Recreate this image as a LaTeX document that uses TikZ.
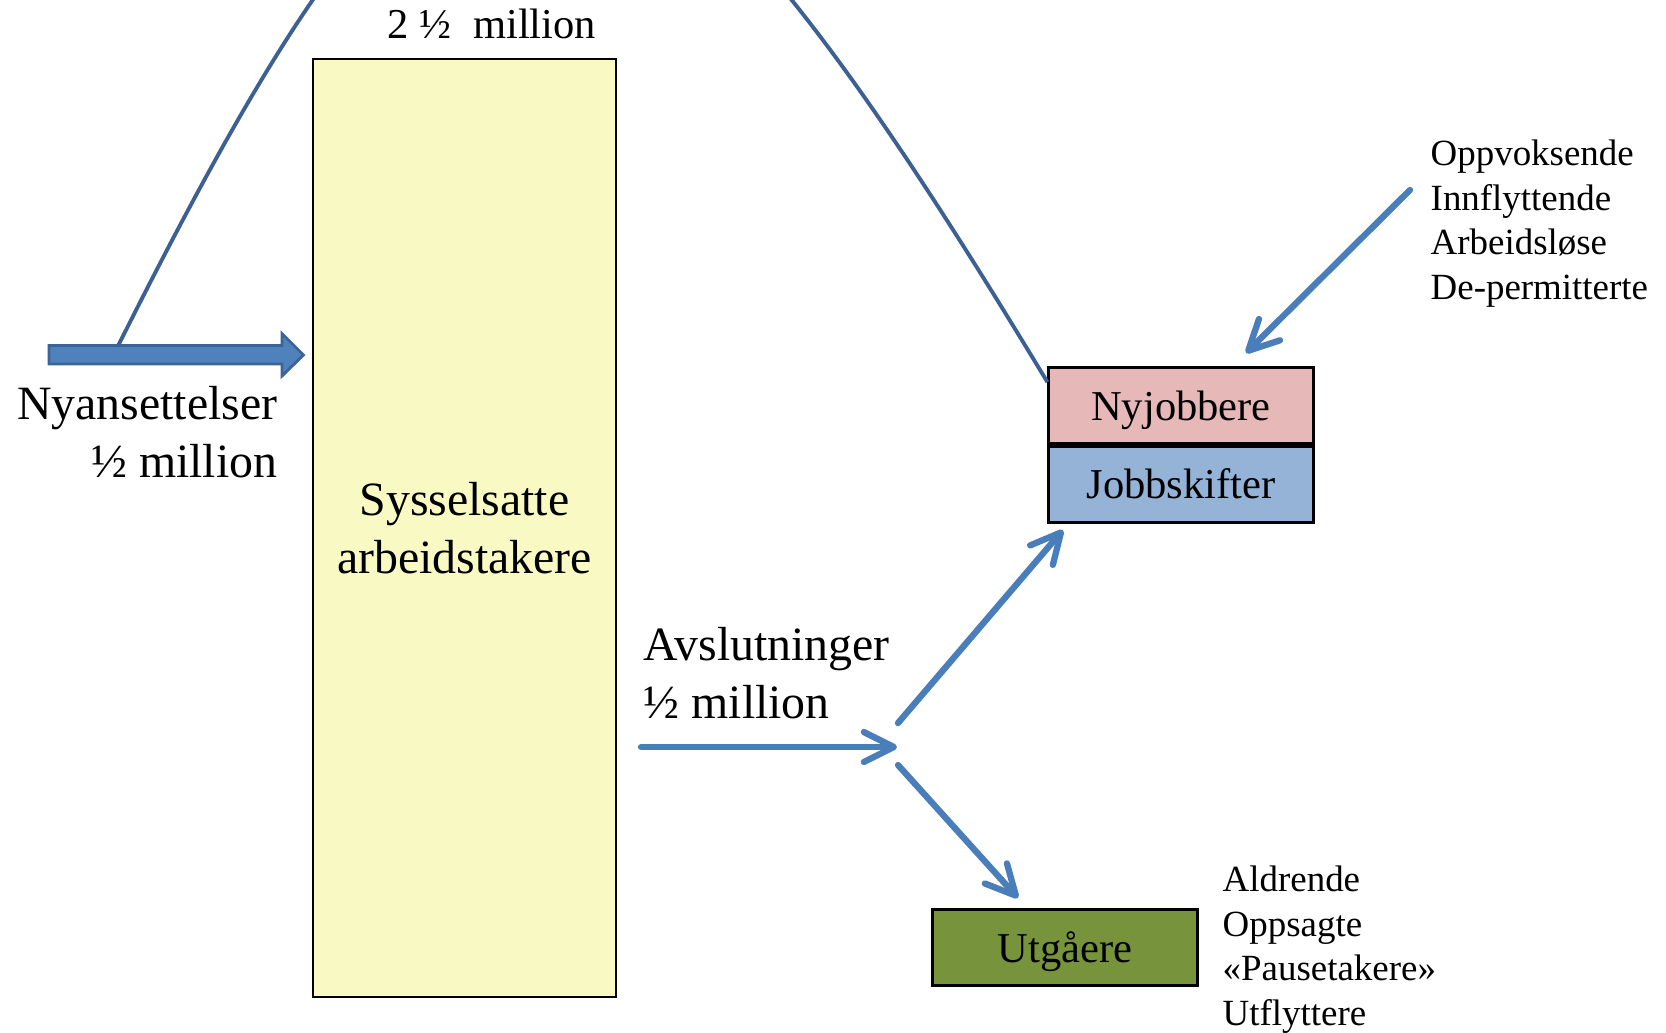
\documentclass[tikz,border=0pt]{standalone}
\usepackage{fontspec}
\setmainfont{Liberation Serif}
\usetikzlibrary{arrows.meta,positioning}
\definecolor{sysfill}{RGB}{249,249,196}
\definecolor{nyfill}{RGB}{230,185,184}
\definecolor{jobfill}{RGB}{149,179,215}
\definecolor{utgfill}{RGB}{119,147,60}
\definecolor{flowblue}{RGB}{74,126,187}
\definecolor{arcblue}{RGB}{60,96,146}
\definecolor{hirefill}{RGB}{79,129,189}
\definecolor{hireedge}{RGB}{60,100,151}
\begin{document}
\begin{tikzpicture}[x=0.01cm,y=-0.01cm]
        \tikzstyle{bigtext}=[font=\fontsize{13.6}{16.3}\selectfont,inner sep=0pt]
        \tikzstyle{midtext}=[font=\fontsize{12.1}{14.5}\selectfont,inner sep=0pt]
        \tikzstyle{smalltext}=[font=\fontsize{10.5}{12.65}\selectfont,inner sep=0pt,align=left]
        \tikzstyle{jobbox}=[rectangle,draw=black,line width=0.85pt,minimum width=2.64cm,minimum height=0.755cm,midtext,text height=8.2pt,text depth=0pt]
        \tikzstyle{flow}=[draw=flowblue,line width=1.8pt,line cap=round,-{Straight Barb[length=8.5pt,width=8.5pt,round]}]
        \tikzstyle{arc}=[draw=arcblue,line width=1.1pt]
        \tikzstyle{hirearrow}=[draw=hireedge,fill=hirefill,line width=0.8pt]
       \useasboundingbox (0,0) rectangle (1666,1033);
       \clip (0,0) rectangle (1666,1033);
       \begin{scope}
         \node [draw=black,line width=0.6pt,fill=sysfill,minimum width=3.03cm,minimum height=9.375cm,bigtext,align=center] (sys) at (464.5,528.2) {Sysselsatte\\arbeidstakere};
         \node [midtext,anchor=base] (stock) at (492,38.5) {2 ½~ million};

         \node [jobbox,fill=nyfill] (nyj) at (1181,405.7) {Nyjobbere};
         \node [jobbox,fill=jobfill,below=0pt of nyj] (job) {Jobbskifter};
         \node [jobbox,fill=utgfill] (utg) at (1065,947.7) {Utgåere};

         \node [bigtext,align=right,anchor=base east] (hire) at (278,477) {Nyansettelser\\½ million};
         \node [bigtext,align=left,anchor=base west] (quit) at (643,718) {Avslutninger\\½ million};
         \node [smalltext,anchor=base west] (inlist) at (1430,299.2) {Oppvoksende\\Innflyttende\\Arbeidsløse\\De-permitterte};
         \node [smalltext,anchor=base west] (outlist) at (1222,1025) {Aldrende\\Oppsagte\\«Pausetakere»\\Utflyttere};

         \coordinate (hireTail) at (49,355);
         \coordinate (hireTip) at (303.5,355);
         \coordinate (arcStart) at (118,346);
         \coordinate (quitStart) at (641,747);
         \coordinate (fork) at (897,747);
         \coordinate (upStart) at (898,723);
         \coordinate (upTip) at (1063,530);
         \coordinate (downStart) at (898,765);
         \coordinate (downTip) at (1018,898);
         \coordinate (inStart) at (1410,190);
         \coordinate (inTip) at (1246,353);

         \draw[hirearrow] (hireTail) ++(0,-9.5) -- ++(233,0) -- ++(0,-12) -- (hireTip) -- ++(-21.5,21) -- ++(0,-12) -- ++(-233,0) -- cycle;
         \draw[arc] (arcStart) .. controls (468,-353) and (598,-362) .. (nyj.170);

         \path[flow] (quitStart) -- (fork);
         \path[flow] (upStart) -- (upTip);
         \path[flow] (downStart) -- (downTip);
         \path[flow] (inStart) -- (inTip);
        \end{scope}
      \end{tikzpicture}
\end{document}
